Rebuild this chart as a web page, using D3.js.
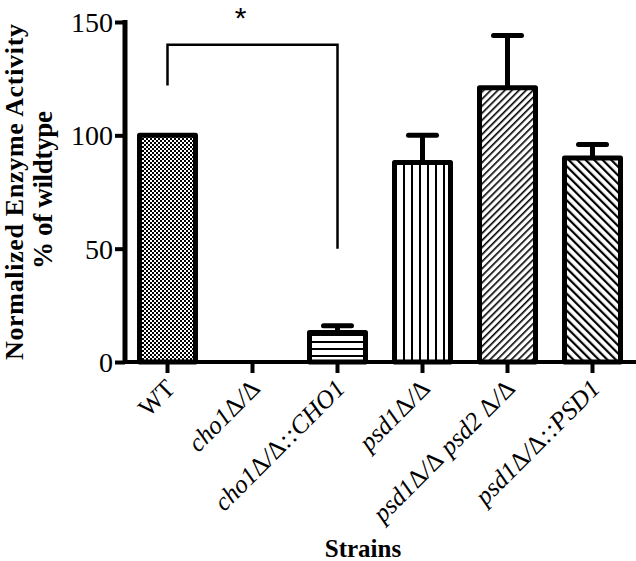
<!DOCTYPE html>
<html><head><meta charset="utf-8">
<script src="https://cdn.jsdelivr.net/npm/d3@7"></script>
<style>body{margin:0;background:#fff}svg{display:block}</style>
</head><body>
<script>
const categories = ["WT","cho1Δ/Δ","cho1Δ/Δ::CHO1","psd1Δ/Δ","psd1Δ/Δ psd2 Δ/Δ","psd1Δ/Δ::PSD1"];
const values = [100, 0, 13, 88, 121, 90];
const errors = [0, 0, 3, 12, 23, 6];
const patterns = ["check","none","hlines","vlines","diagUp","diagDown"];
const yTicks = [0, 50, 100, 150];

const W = 636, H = 561;
const svg = d3.select("body").append("svg").attr("width", W).attr("height", H);
const defs = svg.append("defs");

function pat(id, w, h, draw){
  const p = defs.append("pattern").attr("id", id).attr("patternUnits","userSpaceOnUse").attr("width", w).attr("height", h);
  p.append("rect").attr("width", w).attr("height", h).attr("fill","#fff");
  draw(p);
}
pat("check", 4, 4, p => {
  p.append("rect").attr("x",0).attr("y",0).attr("width",2).attr("height",2).attr("fill","#000");
  p.append("rect").attr("x",2).attr("y",2).attr("width",2).attr("height",2).attr("fill","#000");
});
pat("hlines", 8, 7, p => p.append("rect").attr("x",0).attr("y",5).attr("width",8).attr("height",2).attr("fill","#000"));
pat("vlines", 8, 8, p => p.append("rect").attr("x",3).attr("y",0).attr("width",2).attr("height",8).attr("fill","#000"));
pat("diagUp", 5, 5, p => {
  p.attr("patternTransform","rotate(45)");
  p.append("rect").attr("x",0).attr("y",0).attr("width",1.6).attr("height",5).attr("fill","#000");
});
pat("diagDown", 6, 6, p => {
  p.attr("patternTransform","rotate(-45)");
  p.append("rect").attr("x",0).attr("y",0).attr("width",2.2).attr("height",6).attr("fill","#000");
});

const x = d3.scaleBand().domain(categories).range([125, 635]);
const y = d3.scaleLinear().domain([0,150]).range([362, 22]);

const bw = 56;
const g = svg.append("g");
categories.forEach((c,i) => {
  const v = values[i];
  if (v <= 0) return;
  const cx = x(c) + x.bandwidth()/2;
  if (errors[i] > 0) {
    g.append("line").attr("x1",cx).attr("x2",cx).attr("y1",y(v)).attr("y2",y(v+errors[i]))
      .attr("stroke","#000").attr("stroke-width",5);
    g.append("line").attr("x1",cx-14).attr("x2",cx+14).attr("y1",y(v+errors[i])).attr("y2",y(v+errors[i]))
      .attr("stroke","#000").attr("stroke-width",5).attr("stroke-linecap","round");
  }
  g.append("rect").attr("x", cx - bw/2).attr("y", y(v)).attr("width", bw).attr("height", y(0)-y(v))
    .attr("fill", `url(#${patterns[i]})`).attr("stroke","#000").attr("stroke-width",5)
    .attr("stroke-linejoin","round");
});

// y axis
const yAxis = d3.axisLeft(y).tickValues(yTicks).tickSize(10).tickPadding(2);
const ya = svg.append("g").attr("transform","translate(125,0)").call(yAxis);
ya.select(".domain").attr("stroke-width",5).attr("d","M0,20V364");
ya.selectAll(".tick line").attr("stroke-width",4);
ya.selectAll(".tick text").attr("font-family","Liberation Serif").attr("font-size",28).attr("fill","#000").attr("dy","0.34em");

// x axis
const xAxis = d3.axisBottom(x).tickSize(11).tickFormat("");
const xa = svg.append("g").attr("transform","translate(0,362)").call(xAxis);
xa.select(".domain").attr("stroke-width",4).attr("d","M123,0H636");
xa.selectAll(".tick line").attr("stroke-width",4);

// x tick labels (italic, rotated; Δ upright)
categories.forEach((c,i) => {
  const cx = x(c) + x.bandwidth()/2;
  const t = svg.append("text").attr("transform",`translate(${cx+9},390) rotate(-45)`)
    .attr("text-anchor","end").attr("font-family","Liberation Serif").attr("font-size",25.5);
  c.split(/(Δ)/).filter(s => s.length).forEach(s => {
    t.append("tspan").attr("font-style", (i===0 || s==="Δ") ? "normal" : "italic").text(s);
  });
});

// titles
svg.append("text").attr("x",363).attr("y",557).attr("text-anchor","middle")
  .attr("font-family","Liberation Serif").attr("font-weight","bold").attr("font-size",25).text("Strains");
svg.append("text").attr("transform","translate(23,192) rotate(-90)").attr("text-anchor","middle")
  .attr("font-family","Liberation Serif").attr("font-weight","bold").attr("font-size",26)
  .attr("textLength",336).attr("lengthAdjust","spacing").text("Normalized Enzyme Activity");
svg.append("text").attr("transform","translate(52,190) rotate(-90)").attr("text-anchor","middle")
  .attr("font-family","Liberation Serif").attr("font-weight","bold").attr("font-size",27)
  .attr("textLength",158).attr("lengthAdjust","spacing").text("% of wildtype");

// significance bracket
const x0 = x(categories[0]) + x.bandwidth()/2, x2 = x(categories[2]) + x.bandwidth()/2;
svg.append("path").attr("d",`M${x0},${y(122)}V${y(140)}H${x2}V${y(50)}`)
  .attr("fill","none").attr("stroke","#000").attr("stroke-width",2.5);
svg.append("text").attr("x",(x0+x2)/2-12).attr("y",28).attr("text-anchor","middle")
  .attr("font-family","Liberation Sans").attr("font-size",30).text("*");
</script>
</body></html>
